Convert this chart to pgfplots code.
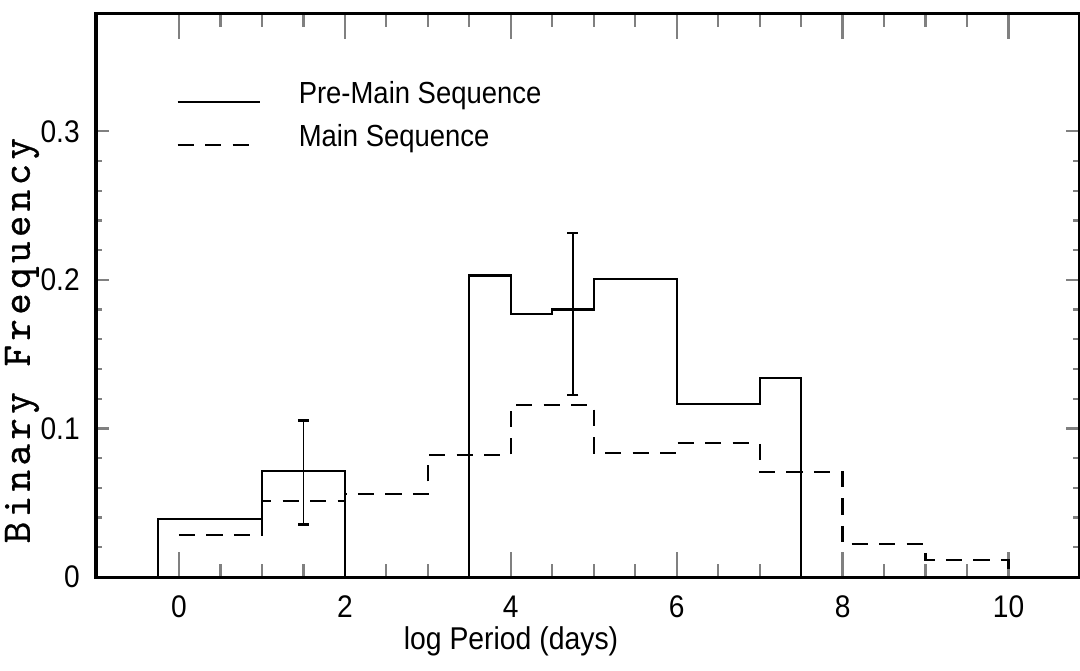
\documentclass[border=0pt]{standalone}
\usepackage{pgfplots}
\pgfplotsset{compat=1.18}
\usepackage{fontspec}
\setmainfont{Liberation Sans}
\newfontfamily\narrowfont[FakeStretch=0.9]{Liberation Sans}
\newfontfamily\courfont[LetterSpace=11, FakeBold=0.6]{lmmono10-regular.otf}
\usetikzlibrary{calc}
\begin{document}
\begin{tikzpicture}
\begin{axis}[
  name=ax,
  scale only axis,
  width=393.2pt, height=225.2pt,
  xmin=-1, xmax=10.85, ymin=0, ymax=0.379,
  xtick={0,2,4,6,8,10},
  minor x tick num=3,
  ytick={0,0.1,0.2,0.3},
  minor y tick num=4,
  tick align=inside,
  xtick style={/pgfplots/major tick length=10pt, /pgfplots/minor tick length=5.2pt, line width=0.9pt},
  ytick style={/pgfplots/major tick length=5.2pt, /pgfplots/minor tick length=2.4pt, line width=0.9pt},
  axis line style={line width=1.2pt},
  ticklabel style={font=\narrowfont\fontsize{12.5}{14}\selectfont},
  /pgf/number format/assume math mode=true,
  xticklabel style={yshift=-4pt},
  yticklabel style={xshift=-3pt},
  xlabel={log Period (days)},
  xlabel style={at={(rel axis cs:0.4222,0)}, anchor=north, yshift=-16.5pt, font=\narrowfont\fontsize{12.6}{14}\selectfont},
  ylabel={Binary Frequency},
  ylabel style={at={(rel axis cs:-0.0753,0.42)}, anchor=center, font=\courfont\fontsize{16.3}{18}\selectfont},
  legend cell align=left,
  legend style={draw=none, fill=none, at={(rel axis cs:0.0814,0.89)}, anchor=north west,
    font=\narrowfont\fontsize{12.2}{14}\selectfont, row sep=3pt, inner sep=0pt},
  legend image code/.code={\draw[#1] (0pt,-3pt) -- (32.8pt,-3pt); \path (0pt,0pt) (46pt,0pt);},
]
\addplot[black, line width=0.9pt, const plot] coordinates {
  (-0.25,0) (-0.25,0.039) (1,0.0714) (2,0) (3.5,0.203) (4,0.177) (4.5,0.180)
  (5,0.2007) (6,0.1165) (7,0.134) (7.5,0) };
\addlegendentry{Pre-Main Sequence}
\addplot[black, line width=0.9pt, const plot, dash pattern=on 6.5pt off 4.5pt] coordinates {
  (0,0.0283) (1,0.051) (2,0.056) (3,0.082) (4,0.116) (5,0.0833) (6,0.090)
  (7,0.0707) (8,0.022) (9,0.0114) (10,0) };
\addlegendentry{Main Sequence}
\addplot[draw=none, mark=none, forget plot,
  error bars/.cd, y dir=both, y explicit,
  error bar style={draw=black, solid, line width=0.7pt},
  error mark options={draw=black, solid, rotate=90, mark size=2.2pt, line width=1pt}]
  coordinates { (1.5,0.0705) +- (0,0.035) (4.75,0.177) +- (0,0.0545) };
\coordinate (bl) at (rel axis cs:0,0);
\coordinate (tr) at (rel axis cs:1,1);
\end{axis}
\pgfresetboundingbox
\path ($(bl)+(-38.4pt,-37.2pt)$) rectangle ($(tr)+(0.4pt,5.6pt)$);
\end{tikzpicture}
\end{document}
